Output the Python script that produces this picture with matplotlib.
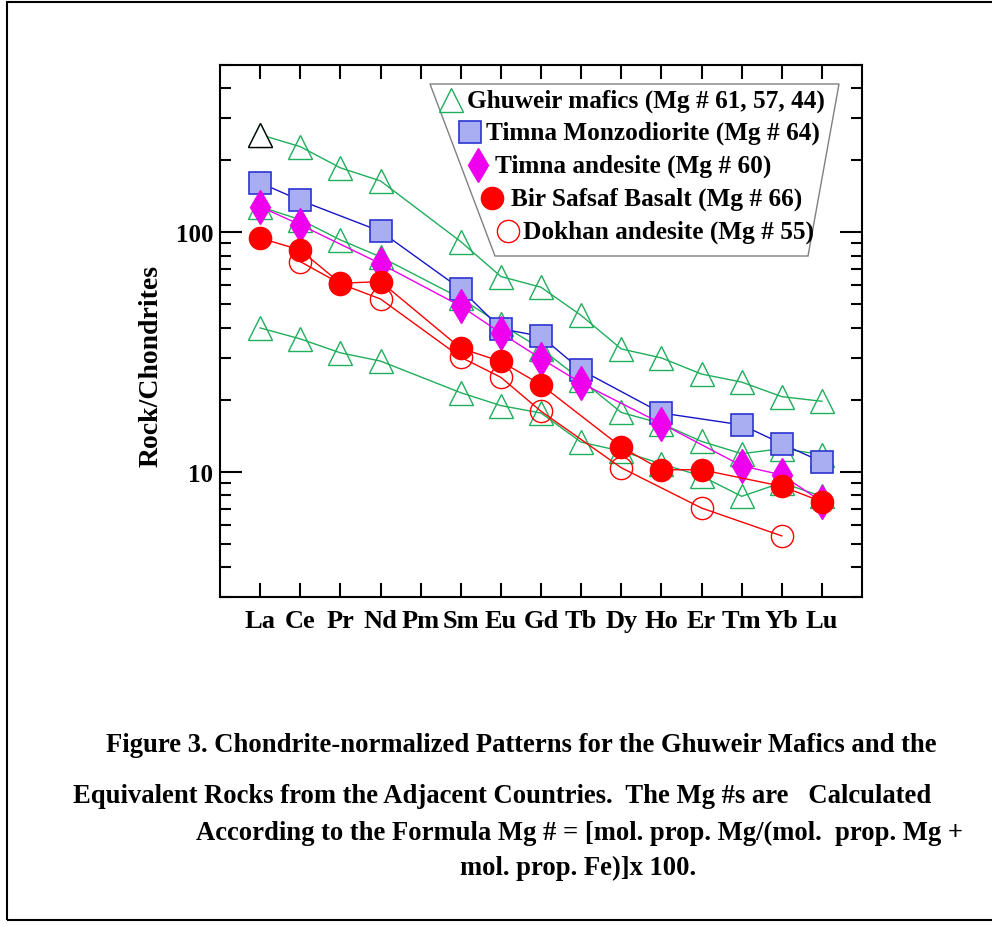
import matplotlib
matplotlib.use("Agg")
import matplotlib.pyplot as plt
import numpy as np
from matplotlib.ticker import LogLocator, NullFormatter, FixedLocator, FixedFormatter
from matplotlib.patches import Polygon, Rectangle
from matplotlib.lines import Line2D

plt.rcParams['font.family'] = ['Liberation Serif', 'DejaVu Serif']
plt.rcParams['font.weight'] = 'bold'

elements = ["La", "Ce", "Pr", "Nd", "Pm", "Sm", "Eu", "Gd", "Tb", "Dy", "Ho", "Er", "Tm", "Yb", "Lu"]

# Ghuweir mafics (three samples) - no Pm
ghu_elems = ["La", "Ce", "Pr", "Nd", "Sm", "Eu", "Gd", "Tb", "Dy", "Ho", "Er", "Tm", "Yb", "Lu"]
ghu_1 = [256, 228, 186, 164, 91.5, 65.4, 59.0, 45.0, 32.6, 29.9, 25.6, 23.7, 20.6, 19.7]
ghu_2 = [128, 113, 93, 79, 53, 41.3, 32.7, 24.2, 17.7, 15.9, 13.4, 11.9, 12.5, 11.8]
ghu_3 = [39.9, 35.9, 31.4, 29.0, 21.4, 18.9, 17.6, 13.3, 12.2, 10.8, 9.6, 7.9, 9.0, 7.9]

# Timna Monzodiorite
tmz_elems = ["La", "Ce", "Nd", "Sm", "Eu", "Gd", "Tb", "Ho", "Tm", "Yb", "Lu"]
tmz_vals = [161, 136, 101, 58, 39.6, 36.8, 26.6, 17.6, 15.7, 13.1, 11.0]

# Timna andesite
tan_elems = ["La", "Ce", "Nd", "Sm", "Eu", "Gd", "Tb", "Ho", "Tm", "Yb", "Lu"]
tan_vals = [128, 107.6, 74, 49.2, 38.0, 29.7, 23.5, 15.9, 10.6, 9.7, 7.5]

# Bir Safsaf Basalt
bsb_elems = ["La", "Ce", "Pr", "Nd", "Sm", "Eu", "Gd", "Dy", "Ho", "Er", "Yb", "Lu"]
bsb_vals = [94.7, 84.4, 61.3, 62.3, 32.8, 28.9, 23.1, 12.7, 10.2, 10.2, 8.7, 7.5]

# Dokhan andesite
dok_elems = ["Ce", "Pr", "Nd", "Sm", "Eu", "Gd", "Dy", "Er", "Yb"]
dok_vals = [75.5, 61.0, 52.7, 30.1, 24.8, 17.9, 10.4, 7.06, 5.4]

legend_labels = ["Ghuweir mafics (Mg # 61, 57, 44)",
                 "Timna Monzodiorite (Mg # 64)",
                 "Timna andesite (Mg # 60)",
                 "Bir Safsaf Basalt (Mg # 66)",
                 "Dokhan andesite (Mg # 55)"]

caption_lines = ["Figure 3. Chondrite-normalized Patterns for the Ghuweir Mafics and the",
                 "Equivalent Rocks from the Adjacent Countries.  The Mg #s are   Calculated",
                 "According to the Formula Mg # = [mol. prop. Mg/(mol.  prop. Mg +",
                 "mol. prop. Fe)]x 100."]

W, H = 992, 928
fig = plt.figure(figsize=(W / 100, H / 100), dpi=100)

def fx(x):
    return x / W

def fy(y):
    return 1 - y / H

ax = fig.add_axes([fx(220), fy(598), 642 / W, 532 / H])

idx = {e: i for i, e in enumerate(elements)}

def xs(el):
    return [idx[e] for e in el]

green = '#1fae5c'
blue_line = '#1515c8'
sq_face = '#a9aef2'
sq_edge = '#2a35d0'
magenta = '#ee00ee'
red = '#ff0000'

# Ghuweir
for vals in (ghu_1, ghu_2, ghu_3):
    ax.plot(xs(ghu_elems), vals, color=green, lw=1.0, marker='^', ms=17,
            mfc='none', mec=green, mew=1.0, zorder=2)
# first La point of top sample drawn in black
ax.plot([idx["La"]], [ghu_1[0]], linestyle='none', marker='^', ms=17,
        mfc='white', mec='black', mew=1.0, zorder=2.1)

# Dokhan (open circles)
ax.plot(xs(dok_elems), dok_vals, color=red, lw=1.0, marker='o', ms=16,
        mfc='none', mec=red, mew=1.0, zorder=3)
# Timna Monzodiorite
ax.plot(xs(tmz_elems), tmz_vals, color=blue_line, lw=1.0, marker='s', ms=16.5,
        mfc=sq_face, mec=sq_edge, mew=1.2, zorder=4)
# Timna andesite
ax.plot(xs(tan_elems), tan_vals, color=magenta, lw=1.0, marker='d', ms=17,
        mfc=magenta, mec=magenta, mew=1.0, zorder=5)
# Bir Safsaf basalt
ax.plot(xs(bsb_elems), bsb_vals, color=red, lw=1.0, marker='o', ms=16,
        mfc=red, mec=red, mew=1.0, zorder=6)

ax.set_yscale('log')
ax.set_ylim(3, 500)
ax.set_xlim(-1, 15)
ax.xaxis.set_major_locator(FixedLocator(range(len(elements))))
ax.xaxis.set_major_formatter(FixedFormatter(elements))
ax.yaxis.set_major_locator(FixedLocator([10, 100]))
ax.yaxis.set_major_formatter(FixedFormatter(["10", "100"]))
ax.yaxis.set_minor_locator(LogLocator(base=10, subs=np.arange(2, 10), numticks=20))
ax.yaxis.set_minor_formatter(NullFormatter())

ax.tick_params(axis='x', which='major', direction='in', length=10, width=1.5,
               top=True, bottom=True, labelsize=19, pad=9)
ax.tick_params(axis='y', which='major', direction='in', length=16, width=1.5,
               left=True, right=True, labelsize=18, pad=5)
ax.tick_params(axis='y', which='minor', direction='in', length=8, width=1.5,
               left=True, right=True)
for lab in ax.get_xticklabels() + ax.get_yticklabels():
    lab.set_fontweight('bold')
for sp in ax.spines.values():
    sp.set_linewidth(1.5)

fig.text(fx(151), fy(366), "Rock/Chondrites", rotation=90, ha='center', va='center',
         fontsize=20, fontweight='bold')

# Legend (trapezoid)
poly = Polygon([(fx(430), fy(85)), (fx(839), fy(85)), (fx(808), fy(257)), (fx(495), fy(257))],
               closed=True, transform=fig.transFigure, facecolor='white', edgecolor='#808080',
               lw=1.0, zorder=10)
fig.patches.append(poly)

leg_style = [
    dict(marker='^', ms=17, mfc='none', mec=green, mew=1.0),
    dict(marker='s', ms=16.5, mfc=sq_face, mec=sq_edge, mew=1.2),
    dict(marker='d', ms=17, mfc=magenta, mec=magenta, mew=1.0),
    dict(marker='o', ms=16, mfc=red, mec=red, mew=1.0),
    dict(marker='o', ms=16, mfc='none', mec=red, mew=1.0),
]
mk_x = [451, 470, 478, 492, 508]
tx_x = [467, 486, 495, 511, 523]
row_y = [101, 133, 166, 199, 232]
for st, mx, tx, ry, lab in zip(leg_style, mk_x, tx_x, row_y, legend_labels):
    fig.add_artist(Line2D([fx(mx)], [fy(ry)], transform=fig.transFigure, linestyle='none',
                          zorder=11, **st))
    fig.text(fx(tx), fy(ry), lab, ha='left', va='center', fontsize=18.2, fontweight='bold',
             zorder=12)

# Caption
cap_pos = [(521, 746, 'center'), (502, 797, 'center'), (579, 833, 'center'), (578, 868, 'center')]
for (cx, cy, ha), txt in zip(cap_pos, caption_lines):
    fig.text(fx(cx), fy(cy), txt, ha=ha, va='center', fontsize=19.2, fontweight='bold')

# Outer border
fig.patches.append(Rectangle((fx(7), fy(921)), fx(995) - fx(7), fy(3) - fy(921),
                             transform=fig.transFigure, fill=False, edgecolor='black', lw=1.5))

fig.savefig("out.png", dpi=100)
